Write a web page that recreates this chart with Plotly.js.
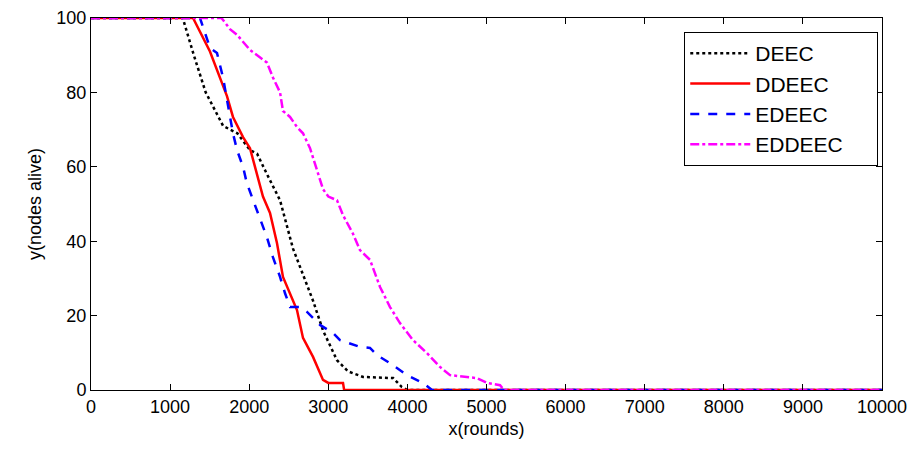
<!DOCTYPE html>
<html>
<head>
<meta charset="utf-8">
<script src="https://cdn.plot.ly/plotly-3.0.1.min.js"></script>
<style>html,body{margin:0;padding:0;background:#fff;}#chart{width:915px;height:452px;}</style>
</head>
<body>
<div id="chart"></div>
<script>
const deecX = [0, 1160, 1300, 1450, 1670, 1850, 2010, 2100, 2225, 2390, 2554, 2700, 2807, 2933, 3110, 3250, 3440, 3820, 3930, 4000, 10000];
const deecY = [100, 100, 90, 80, 71, 69, 64.5, 63.5, 58, 51, 38, 30, 24, 16, 8, 5, 3.5, 3.2, 0.8, 0, 0];

const ddeecX = [0, 1290, 1504, 1631, 1719, 1795, 1922, 2010, 2099, 2137, 2174, 2263, 2351, 2427, 2604, 2680, 2807, 2933, 3000, 3186, 3200, 10000];
const ddeecY = [100, 100, 91, 84, 79, 73.4, 68, 65, 58, 55.6, 52, 47.6, 39.5, 30.4, 21.5, 14, 8.9, 2.7, 1.9, 1.9, 0, 0];

const edeecX = [0, 1378, 1504, 1593, 1669, 1732, 1795, 1846, 1922, 1970, 2099, 2225, 2300, 2390, 2453, 2516, 2642, 2731, 2895, 3060, 3148, 3400, 3527, 3615, 3780, 3995, 4197, 4311, 10000];
const edeecY = [100, 100, 92, 90.6, 84, 77, 69, 64.5, 60, 55.6, 48, 41, 35.7, 30.4, 26, 22.3, 22.3, 21, 17.5, 15.3, 13.4, 11.6, 11.3, 9.4, 7.2, 4, 1.9, 0, 0];

const eddeecX = [0, 1650, 1757, 1846, 2010, 2174, 2225, 2300, 2390, 2427, 2516, 2604, 2680, 2769, 2857, 2933, 3000, 3110, 3186, 3312, 3400, 3527, 3654, 3780, 3906, 4071, 4248, 4412, 4539, 4880, 5006, 5171, 5220, 10000];
const eddeecY = [100, 100, 97, 95.5, 91.4, 88.7, 88, 84, 80, 75, 73.4, 70.7, 69, 65, 59, 54, 52, 51, 47, 42, 37.6, 35, 27.7, 22.3, 18, 13.4, 9.9, 6.2, 4, 3.2, 1.9, 1.3, 0, 0];

const seriesNames = ['DEEC', 'DDEEC', 'EDEEC', 'EDDEEC'];
const xTicks = [0, 1000, 2000, 3000, 4000, 5000, 6000, 7000, 8000, 9000, 10000];
const yTicks = [0, 20, 40, 60, 80, 100];

const pad = '\u00a0\u00a0\u00a0\u00a0\u00a0';
const traces = [
  {x: deecX, y: deecY, name: seriesNames[0] + pad, mode: 'lines', line: {color: '#000000', width: 2.5, dash: 'dot'}},
  {x: ddeecX, y: ddeecY, name: seriesNames[1] + pad, mode: 'lines', line: {color: '#ff0000', width: 2.5, dash: 'solid'}},
  {x: edeecX, y: edeecY, name: seriesNames[2] + pad, mode: 'lines', line: {color: '#0000ff', width: 2.5, dash: 'dash'}},
  {x: eddeecX, y: eddeecY, name: seriesNames[3] + pad, mode: 'lines', line: {color: '#ff00ff', width: 2.5, dash: 'dashdot'}}
];

const fam = 'Liberation Sans, Arial, sans-serif';

const layout = {
  width: 915, height: 452,
  margin: {l: 91, r: 33, t: 18, b: 62},
  paper_bgcolor: '#fff', plot_bgcolor: '#fff',
  font: {family: fam, size: 18, color: '#000'},
  showlegend: true,
  legend: {x: 0.75, y: 0.962, xanchor: 'left', yanchor: 'top', bgcolor: '#fff', bordercolor: '#000', borderwidth: 1, font: {family: fam, size: 21, color: '#000'}, itemwidth: 60},
  xaxis: {
    range: [0, 10000], tickvals: xTicks, ticktext: xTicks.map(String),
    ticks: 'inside', ticklen: 6, tickcolor: '#000', showline: true, linecolor: '#000', linewidth: 1, mirror: 'ticks',
    showgrid: false, zeroline: false,
    tickfont: {family: fam, size: 18, color: '#000'},
    title: {text: 'x(rounds)', font: {family: fam, size: 18, color: '#000'}, standoff: 6}
  },
  yaxis: {
    range: [0, 100], tickvals: yTicks, ticktext: yTicks.map(String),
    ticks: 'inside', ticklen: 6, tickcolor: '#000', showline: true, linecolor: '#000', linewidth: 1, mirror: 'ticks',
    showgrid: false, zeroline: false,
    tickfont: {family: fam, size: 18, color: '#000'},
    title: {text: 'y(nodes alive)', font: {family: fam, size: 18, color: '#000'}, standoff: 10}
  }
};

Plotly.newPlot('chart', traces, layout, {displayModeBar: false, staticPlot: true});
</script>
</body>
</html>
